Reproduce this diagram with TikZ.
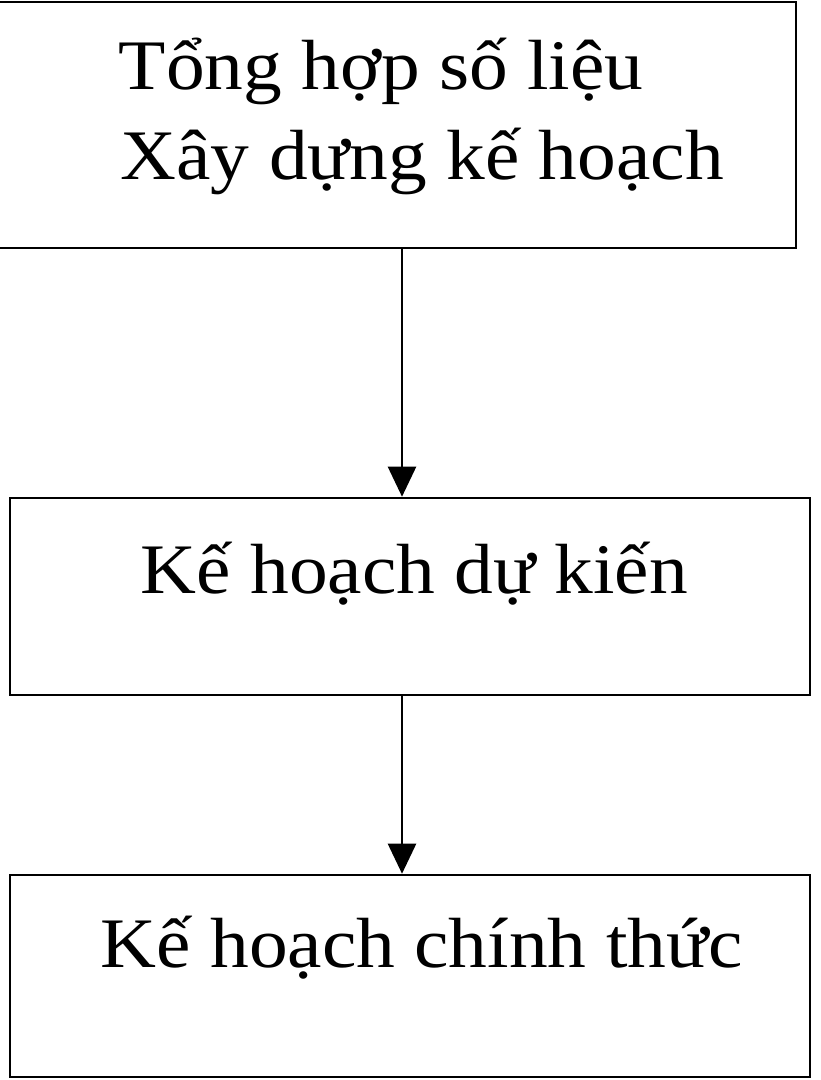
\documentclass[tikz,border=0pt]{standalone}
\usepackage{fontspec}
\setmainfont[FakeStretch=1.09]{Liberation Serif}
\usetikzlibrary{arrows.meta, positioning, calc}

\tikzset{
    box/.style={draw, line width=0.7pt, inner sep=0pt},
    txt/.style={anchor=base west, inner sep=0pt, font=\fontsize{20.2}{24}\selectfont},
    flow/.style={-{Triangle[length=0.3cm, width=0.28cm]}, line width=0.7pt}
}

\begin{document}
\begin{tikzpicture}[x=0.01cm, y=-0.01cm]
    % Page frame
    \useasboundingbox (0,0) rectangle (820,1080);

    % Boxes
    \node[box, minimum width=8.02cm, minimum height=2.46cm] (plan) at (395,125) {};
    \node[box, minimum width=8.00cm, minimum height=1.97cm] (draft) at (410,596.5) {};
    \node[box, minimum width=8.00cm, minimum height=2.02cm] (final) at (410,976) {};

    % Texts
    \node[txt] (plan1) at (118,90) {Tổng hợp số liệu};
    \node[txt] (plan2) at (120,180) {Xây dựng kế hoạch};
    \node[txt] (draftt) at (140,593) {Kế hoạch dự kiến};
    \node[txt] (finalt) at (100,967) {Kế hoạch chính thức};

    % Arrows
    \coordinate (axis) at (402,0);
    \draw[flow] (plan.south -| axis) -- (draft.north -| axis);
    \draw[flow] (draft.south -| axis) -- (final.north -| axis);
\end{tikzpicture}
\end{document}
